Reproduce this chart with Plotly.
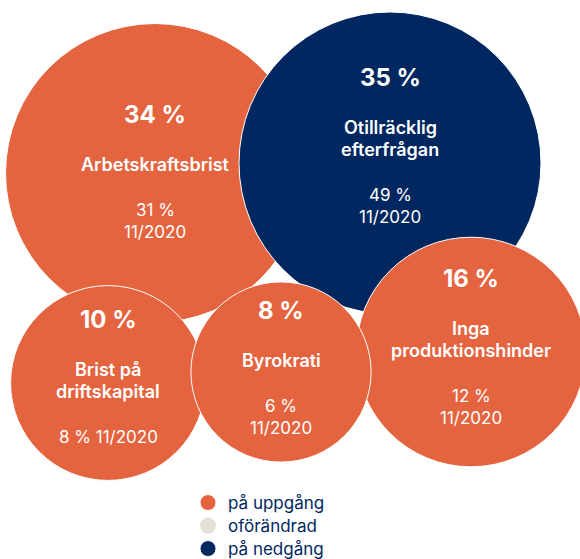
import plotly.graph_objects as go

# ---- data ----
categories = ["Arbetskraftsbrist", "Otillräcklig<br>efterfrågan", "Inga<br>produktionshinder",
              "Brist på<br>driftskapital", "Byrokrati"]
values_now = [34, 35, 16, 10, 8]          # share, %
values_prev = [31, 49, 12, 8, 6]          # share 11/2020, %
prev_period = "11/2020"
trend = ["up", "down", "up", "up", "up"]  # på uppgång / på nedgång
legend_names = {"up": "på uppgång", "flat": "oförändrad", "down": "på nedgång"}
legend_order = ["up", "flat", "down"]

# ---- layout (pixel canvas, packed-bubble placement) ----
W, H = 580, 559
HF = 575               # figure height
YR = 575               # visible data span (1 unit = 1 figure pixel)
pos_x = [155, 390, 471, 108, 281]
pos_y = [173, 163, 352, 383, 372]
text_dy = [0, -16, -4, -5, -3]
prev_wrap = [True, True, True, False, True]
draw_order = [[0], [1], [2, 3, 4]]
legend_rows_y = [503, 526, 549]
legend_left = 188

COL = {"up": "#E4643F", "flat": "#E5E0D5", "down": "#00275F"}
FONT = "Inter"
LEG_ID = {t: ("legend" if k == 0 else f"legend{k + 1}") for k, t in enumerate(legend_order)}


def radius(v):
    return 151 * (v / max(values_now)) ** 0.35


fig = go.Figure()
legend_done = set()
for grp in draw_order:
    t = trend[grp[0]]
    show = t not in legend_done
    legend_done.add(t)
    fig.add_trace(go.Scatter(
        x=[pos_x[i] for i in grp], y=[pos_y[i] for i in grp],
        mode="markers",
        marker=dict(size=[2 * radius(values_now[i]) for i in grp], sizemode="diameter",
                    color=COL[t], opacity=1, line=dict(color="white", width=1)),
        name=legend_names[t], legendgroup=t, showlegend=show, legend=LEG_ID[t],
        hoverinfo="skip",
    ))

# legend-only entry for unchanged
fig.add_trace(go.Scatter(
    x=[None], y=[None], mode="markers",
    marker=dict(size=16, color=COL["flat"]),
    name=legend_names["flat"], legend=LEG_ID["flat"], hoverinfo="skip",
))

# ---- texts inside bubbles ----
LH = 22
for i, cat in enumerate(categories):
    lab_lines = cat.split("<br>")
    prev_lines = [f"{values_prev[i]} %", prev_period] if prev_wrap[i] else [f"{values_prev[i]} % {prev_period}"]
    items = [(0, f"{values_now[i]} %", 24, 700)]
    y = 50
    for k, ln in enumerate(lab_lines):
        items.append((y + k * LH, ln, 18, 600))
    y = y + (len(lab_lines) - 1) * LH + 45
    for k, ln in enumerate(prev_lines):
        items.append((y + k * LH, ln, 17, 400))
    total = items[-1][0]
    top = pos_y[i] + text_dy[i] - total / 2
    for off, txt, fs, fw in items:
        fig.add_annotation(x=pos_x[i], y=top + off, text=txt, showarrow=False,
                           xanchor="center", yanchor="middle",
                           font=dict(family=FONT, size=fs, color="white", weight=fw))

legend_style = dict(bgcolor="rgba(0,0,0,0)", itemsizing="trace", xanchor="left", yanchor="middle",
                    font=dict(family=FONT, size=17, color="#00275F"), itemwidth=30)
legends = {}
for k, t in enumerate(legend_order):
    legends[LEG_ID[t]] = dict(x=legend_left / W, y=1 - legend_rows_y[k] / YR, **legend_style)

fig.update_layout(
    width=W, height=HF, autosize=False,
    margin=dict(l=0, r=0, t=0, b=0),
    paper_bgcolor="white", plot_bgcolor="white",
    xaxis=dict(range=[0, W], visible=False, fixedrange=True),
    yaxis=dict(range=[YR, 0], visible=False, fixedrange=True),
    showlegend=True,
    hovermode=False,
    **legends,
)

fig.write_html("out.html", config={"displayModeBar": False},
               post_script="document.body.style.margin='0';document.body.style.overflow='hidden';")
